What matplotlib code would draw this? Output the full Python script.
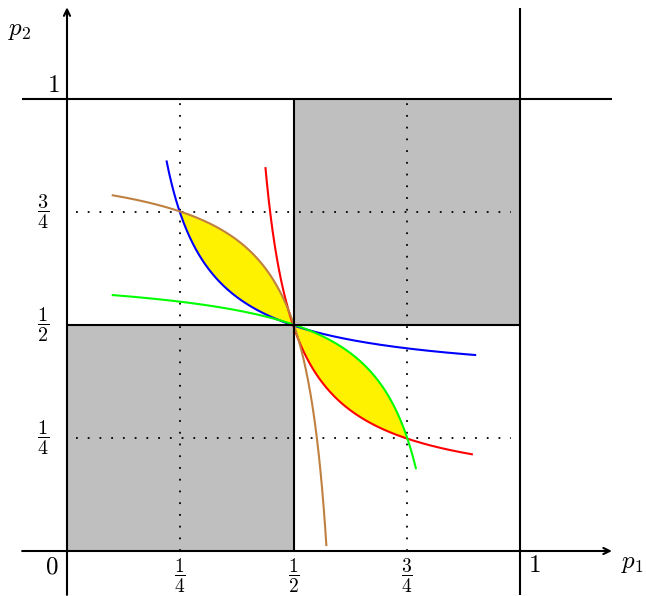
import numpy as np
import matplotlib
matplotlib.use("Agg")
import matplotlib.pyplot as plt
from matplotlib.patches import Rectangle

plt.rcParams['mathtext.fontset'] = 'cm'

# hyperbola p2 = d + k / (p1 - c)
hyp_c = 0.122
hyp_d = 0.372
hyp_k = 0.048

# drawn ranges of each curve
blue_p1 = [0.220, 0.901]
red_p2 = [0.214, 0.847]
green_p1 = [0.101, 0.770]
brown_p1 = [0.101, 0.5725]

# shaded lens regions
lens_left = [0.25, 0.5]
lens_right = [0.5, 0.75]

grid_marks = [0.25, 0.5, 0.75]
frac_labels = [r'$\dfrac{1}{4}$', r'$\dfrac{1}{2}$', r'$\dfrac{3}{4}$']

BROWN = '#bf8040'
GRAY = '#bfbfbf'
YELLOW = '#fff200'


def blue(p1):
    return hyp_d + hyp_k / (p1 - hyp_c)


def red_inv(p2):
    # red is blue mirrored in the diagonal
    return hyp_d + hyp_k / (p2 - hyp_c)


def green(p1):
    # point reflection of blue through (1/2, 1/2)
    return 1 - blue(1 - p1)


def brown(p1):
    # point reflection of red
    return 1 - hyp_c - hyp_k / (1 - hyp_d - p1)


def red(p1):
    return hyp_c + hyp_k / (p1 - hyp_d)


fig = plt.figure(figsize=(6.46, 5.96), dpi=100)
ax = fig.add_axes([0, 0, 1, 1])
ax.set_xlim(-67 / 453, (646 - 67) / 453)
ax.set_ylim(-45 / 452, 551 / 452)
ax.axis('off')

# gray squares
ax.add_patch(Rectangle((0, 0), 0.5, 0.5, fc=GRAY, ec='none', zorder=1))
ax.add_patch(Rectangle((0.5, 0.5), 0.5, 0.5, fc=GRAY, ec='none', zorder=1))

# dotted guides
for m in [0.25, 0.75]:
    ax.plot([m, m], [0.0, 1.0], color='black', lw=1.3, ls=(0, (1, 5.5)),
            dash_capstyle='butt', zorder=2)
    ax.plot([0.02, 0.98], [m, m], color='black', lw=1.3, ls=(0, (1, 5.5)),
            dash_capstyle='butt', zorder=2)

# yellow lenses
x = np.linspace(lens_left[0], lens_left[1], 200)
ax.fill_between(x, blue(x), brown(x), color=YELLOW, lw=0, zorder=3)
x = np.linspace(lens_right[0], lens_right[1], 200)
ax.fill_between(x, red(x), green(x), color=YELLOW, lw=0, zorder=3)

# curves
x = np.linspace(blue_p1[0], blue_p1[1], 400)
ax.plot(x, blue(x), color='#0000ff', lw=1.5, zorder=4)
y = np.linspace(red_p2[0], red_p2[1], 400)
ax.plot(red_inv(y), y, color='#ff0000', lw=1.5, zorder=4)
x = np.linspace(green_p1[0], green_p1[1], 400)
ax.plot(x, green(x), color='#00ff00', lw=1.5, zorder=4)
x = np.linspace(brown_p1[0], brown_p1[1], 400)
ax.plot(x, brown(x), color=BROWN, lw=1.5, zorder=4)

# black frame lines
lk = dict(color='black', lw=1.5, zorder=5, solid_capstyle='butt')
ax.plot([-0.099, 1.203], [1, 1], **lk)
ax.plot([1, 1], [-0.097, 1.201], **lk)
ax.plot([0.5, 0.5], [0, 1], **lk)
ax.plot([0, 1], [0.5, 0.5], **lk)

# axes with arrows
arr = dict(arrowstyle='->,head_length=0.45,head_width=0.22', color='black',
           lw=1.5, shrinkA=0, shrinkB=0)
ax.annotate('', xy=(1.203, 0), xytext=(-0.099, 0), arrowprops=arr, zorder=6)
ax.annotate('', xy=(0, 1.203), xytext=(0, -0.097), arrowprops=arr, zorder=6)

# labels
ax.text(-0.104, 1.153, r'$p_2$', fontsize=18, ha='center', va='center')
ax.text(1.249, -0.027, r'$p_1$', fontsize=18, ha='center', va='center')
ax.text(-0.031, 1.032, r'$1$', fontsize=18, ha='center', va='center')
ax.text(1.031, -0.031, r'$1$', fontsize=18, ha='center', va='center')
ax.text(-0.033, -0.035, r'$0$', fontsize=18, ha='center', va='center')

for m, lab in zip(grid_marks, frac_labels):
    ax.text(-0.053, m, lab, fontsize=14.5, ha='center', va='center')
    ax.text(m, -0.056, lab, fontsize=14, ha='center', va='center')

fig.savefig('out.png', dpi=100)
